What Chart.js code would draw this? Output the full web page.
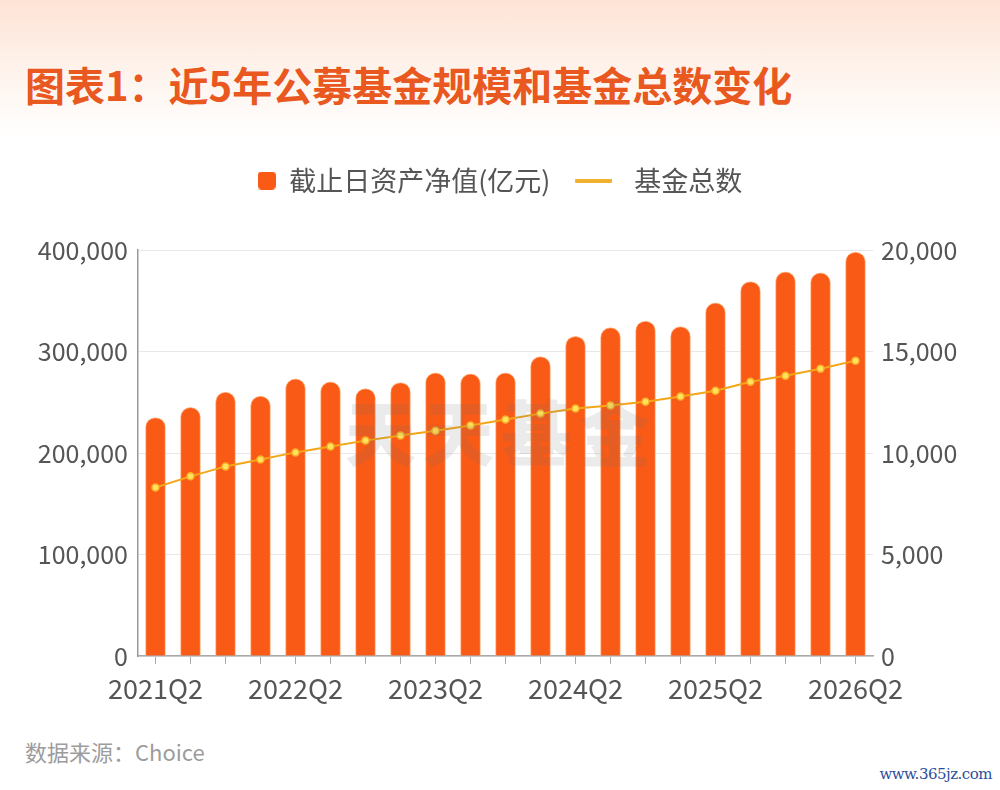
<!DOCTYPE html>
<html>
<head>
<meta charset="utf-8">
<script src="https://cdn.jsdelivr.net/npm/chart.js@4.4.0/dist/chart.umd.min.js"></script>
<style>
  html, body { margin: 0; padding: 0; }
  body {
    width: 1000px; height: 790px; position: relative; overflow: hidden;
    background: linear-gradient(180deg, #fde3d5 0px, #fef3ec 70px, #ffffff 140px);
    font-family: "Noto Sans CJK SC", "Noto Sans", sans-serif;
  }
  #title {
    position: absolute; left: 25px; top: 58px;
    font-size: 40px; font-weight: 700; color: #e8581f; line-height: 52px;
  }
  #box { position: absolute; left: 0; top: 157px; width: 1000px; height: 568px; }
  #mark {
    position: absolute; left: 345px; top: 378px; font-size: 71px; font-weight: 900;
    color: rgba(110, 110, 110, 0.14); letter-spacing: 7px; pointer-events: none;
  }
  #source { position: absolute; left: 25px; top: 735px; font-size: 22px; color: #9c9c9c; }
  #site {
    position: absolute; right: 8px; top: 765px; font-size: 15px; color: #2b4f9c;
    font-family: "DejaVu Serif", serif; letter-spacing: -0.5px;
  }
</style>
</head>
<body>
<div id="title">图表1：近5年公募基金规模和基金总数变化</div>
<div id="box"><canvas id="myChart"></canvas></div>
<div id="mark">天天基金</div>
<div id="source">数据来源：Choice</div>
<div id="site">www.365jz.com</div>
<script>
const quarters = [
  "2021Q2", "2021Q3", "2021Q4",
  "2022Q1", "2022Q2", "2022Q3", "2022Q4",
  "2023Q1", "2023Q2", "2023Q3", "2023Q4",
  "2024Q1", "2024Q2", "2024Q3", "2024Q4",
  "2025Q1", "2025Q2", "2025Q3", "2025Q4",
  "2026Q1", "2026Q2",
];
// 截止日资产净值(亿元)
const netAssets = [235000, 245000, 260000, 256000, 273000, 270000, 263500, 269500, 279000, 278000, 279000,
  295000, 315000, 323500, 330000, 324500, 348000, 369000, 378500, 377500, 398000];
// 基金总数
const fundCount = [8300, 8850, 9340, 9680, 10030, 10320, 10610, 10860, 11100, 11350, 11650,
  11940, 12190, 12340, 12530, 12780, 13070, 13510, 13810, 14150, 14550];

const leftTicks = [0, 100000, 200000, 300000, 400000];
const rightTicks = [0, 5000, 10000, 15000, 20000];

const labelColor = "#555555";
const barColor = "#f95a16";
const lineColor = "#f2a618";
const fontFamily = '"Noto Sans CJK SC", "Noto Sans", sans-serif';

// legend markers: small rounded square for the bars, short dash for the line
function makeMarker(w, h, r, color) {
  const c = document.createElement("canvas");
  c.width = w;
  c.height = h;
  const g = c.getContext("2d");
  g.fillStyle = color;
  g.beginPath();
  g.roundRect(0, 0, w, h, r);
  g.fill();
  return c;
}
const barMarker = makeMarker(18, 18, 4, barColor);
const lineMarker = makeMarker(37, 4, 1, "#f0b030");

const legendHeight = {
  id: "legendHeight",
  beforeInit(chart) {
    const fit = chart.legend.fit;
    chart.legend.fit = function () {
      fit.bind(chart.legend)();
      this.height = 93;
    };
  },
};

const ctx = document.getElementById("myChart");

const chart = new Chart(ctx, {
  type: "bar",
  data: {
    labels: quarters,
    datasets: [
      {
        type: "line",
        label: "基金总数",
        data: fundCount,
        yAxisID: "y2",
        borderColor: lineColor,
        borderWidth: 2,
        pointRadius: 3.5,
        pointBackgroundColor: "#ffe35a",
        pointBorderColor: "#f8b02c",
        pointBorderWidth: 1.5,
        tension: 0,
        order: 0,
      },
      {
        label: "截止日资产净值(亿元)",
        data: netAssets,
        yAxisID: "y",
        backgroundColor: barColor,
        borderColor: "#ffb98c",
        borderWidth: 1,
        borderSkipped: "bottom",
        borderRadius: { topLeft: 10, topRight: 10 },
        barThickness: 20,
        order: 1,
      },
    ],
  },
  options: {
    responsive: true,
    maintainAspectRatio: false,
    animation: false,
    layout: { padding: 0 },
    plugins: {
      tooltip: { enabled: false },
      legend: {
        position: "top",
        reverse: true,
        labels: {
          color: labelColor,
          font: { size: 27, family: fontFamily },
          padding: 10,
          boxWidth: 18,
          boxHeight: 18,
          usePointStyle: true,
          generateLabels(c) {
            return c.data.datasets.map(function (ds, i) {
              const isLine = ds.type === "line";
              return {
                text: isLine ? "   " + ds.label : ds.label + "    ",
                fillStyle: isLine ? lineColor : barColor,
                strokeStyle: isLine ? lineColor : barColor,
                lineWidth: 0,
                pointStyle: isLine ? lineMarker : barMarker,
                fontColor: labelColor,
                datasetIndex: i,
                hidden: false,
              };
            });
          },
        },
      },
    },
    scales: {
      x: {
        grid: { display: true, offset: false, drawOnChartArea: false, tickLength: 8, color: "#aaaaaa" },
        border: { display: true, color: "#aaaaaa", width: 1.5 },
        afterFit(scale) { scale.height = 69; },
        ticks: {
          color: labelColor,
          autoSkip: false,
          maxRotation: 0,
          padding: 9,
          font: { size: 27, family: fontFamily },
          callback(value, index) {
            return index % 4 === 0 ? quarters[index] : "";
          },
        },
      },
      y: {
        position: "left",
        min: 0,
        max: 400000,
        afterFit(scale) { scale.width = 138; },
        afterBuildTicks(scale) { scale.ticks = leftTicks.map(v => ({ value: v })); },
        grid: { color: "#e8e8e8", drawTicks: false },
        border: { display: true, color: "#999999", width: 1.5 },
        ticks: {
          color: labelColor,
          padding: 10,
          font: { size: 25, family: fontFamily },
          callback(value) { return value.toLocaleString("en-US"); },
        },
      },
      y2: {
        position: "right",
        min: 0,
        max: 20000,
        afterFit(scale) { scale.width = 127; },
        afterBuildTicks(scale) { scale.ticks = rightTicks.map(v => ({ value: v })); },
        grid: { drawOnChartArea: false, drawTicks: false },
        border: { display: false },
        ticks: {
          color: labelColor,
          padding: 8,
          font: { size: 25, family: fontFamily },
          callback(value) { return value.toLocaleString("en-US"); },
        },
      },
    },
  },
  plugins: [legendHeight],
});
</script>
</body>
</html>
